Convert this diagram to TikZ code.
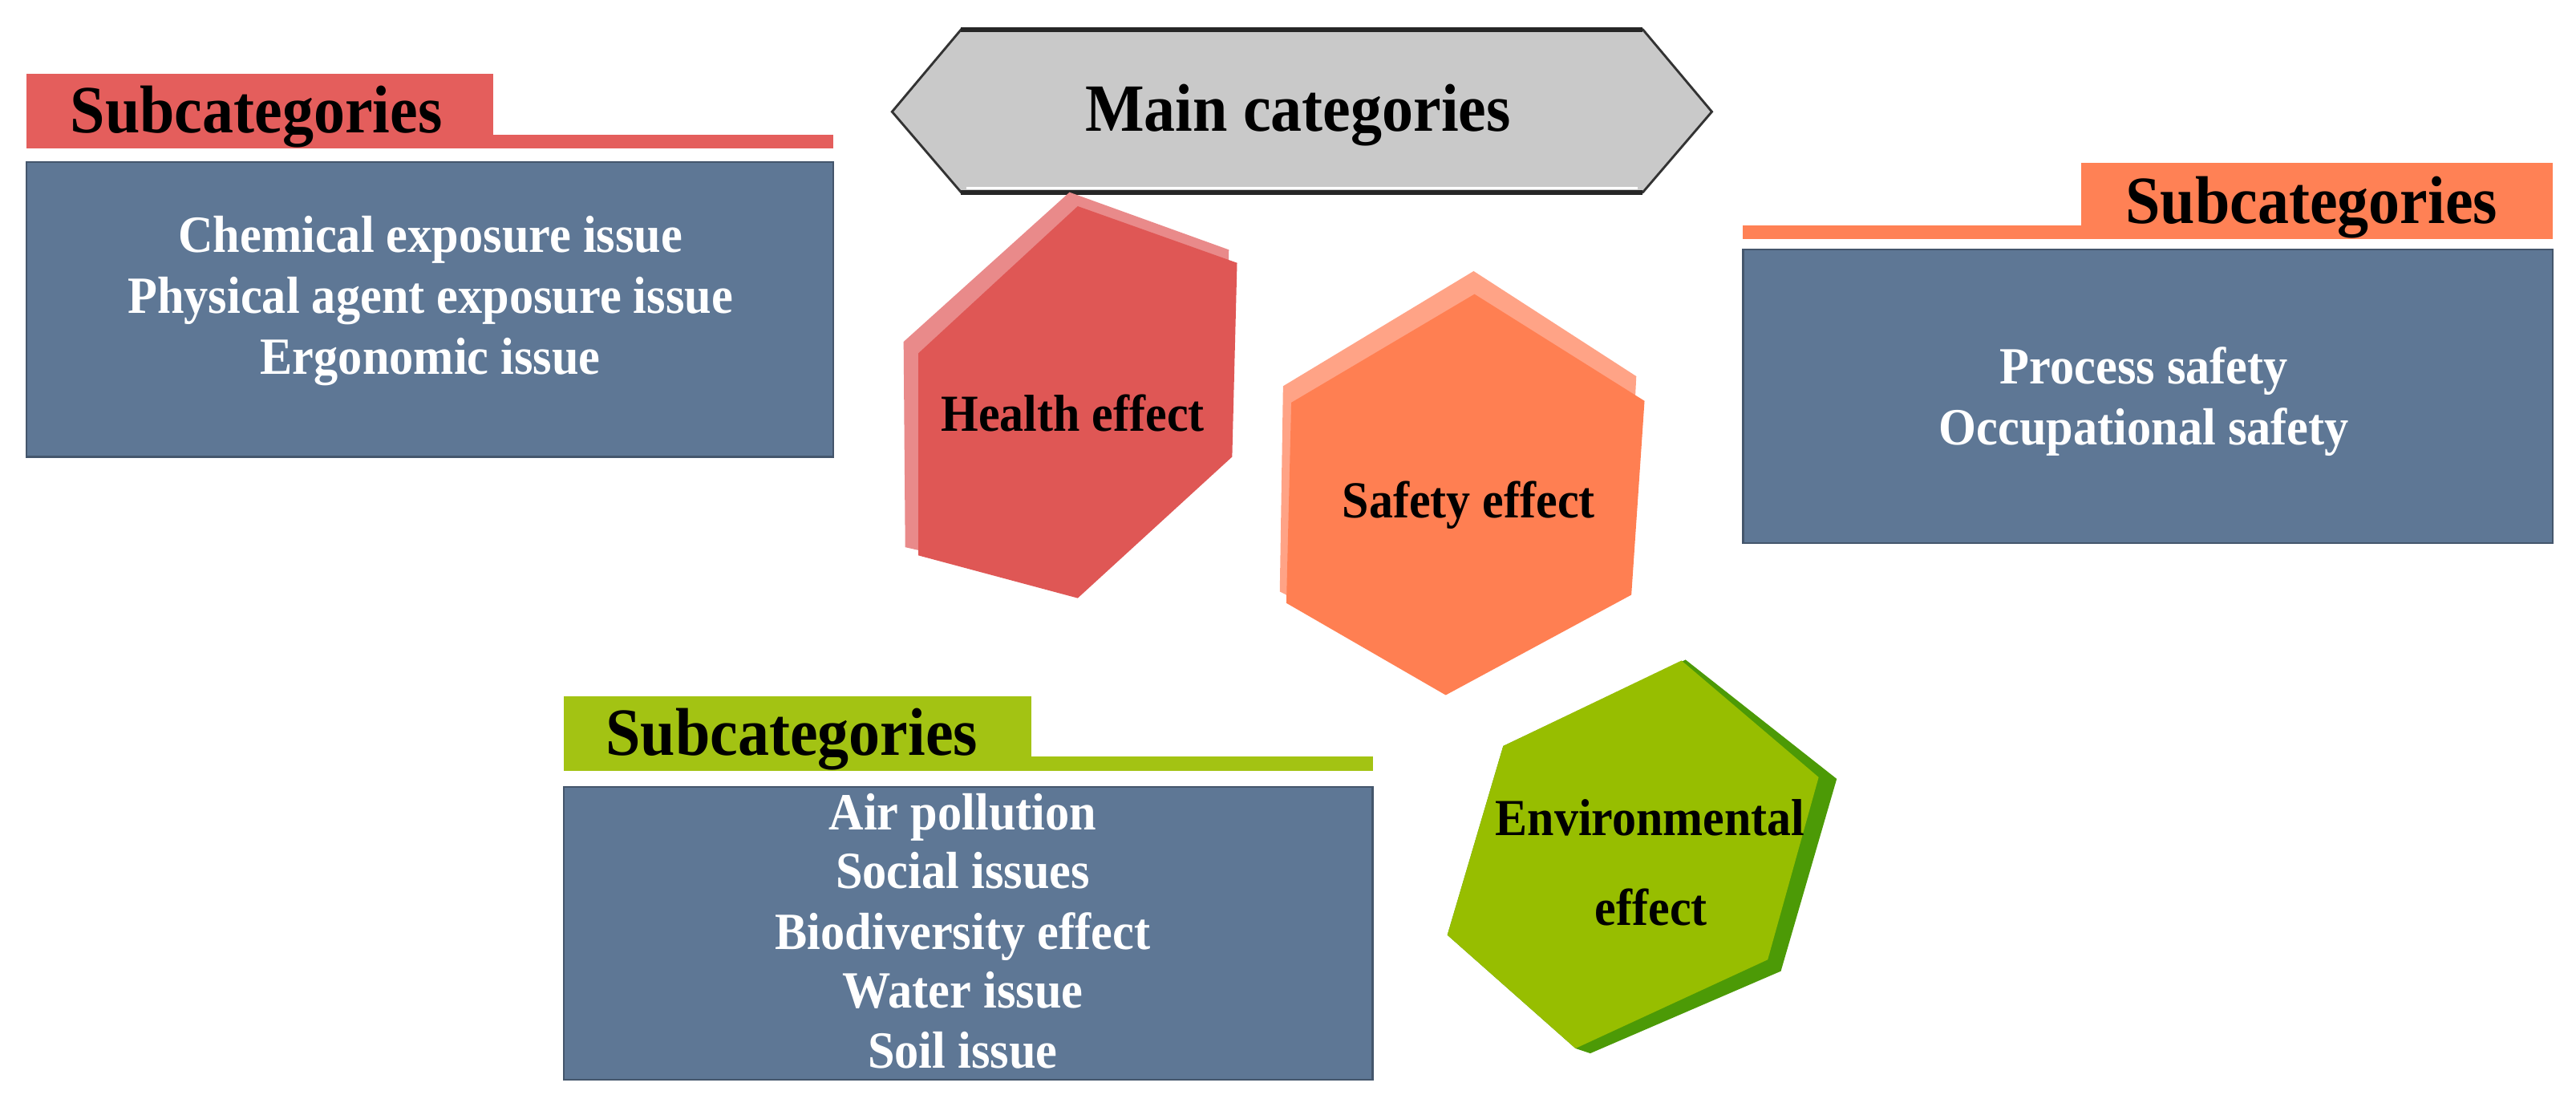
\documentclass[tikz,border=0pt]{standalone}
\usepackage{fontspec}
\setmainfont{Liberation Serif}[FakeStretch=0.926]
\definecolor{blueBox}{HTML}{5E7795}
\definecolor{blueEdge}{HTML}{44566C}
\definecolor{redC}{HTML}{E45E5C}
\definecolor{healthF}{HTML}{DF5755}
\definecolor{healthB}{HTML}{E98A8A}
\definecolor{orangeC}{HTML}{FF8155}
\definecolor{safetyF}{HTML}{FF7F52}
\definecolor{safetyB}{HTML}{FFA386}
\definecolor{greenC}{HTML}{A3C313}
\definecolor{envF}{HTML}{97BE00}
\definecolor{envD}{HTML}{4C9A06}
\definecolor{grayHex}{HTML}{C9C9C9}
\tikzset{
  bodytext/.style={anchor=base, inner sep=0pt, text=white, font=\fontsize{18.1}{22}\selectfont\bfseries},
  headtext/.style={anchor=base, inner sep=0pt, text=black, font=\fontsize{23.4}{28}\selectfont\bfseries},
  hextext/.style={anchor=base, inner sep=0pt, text=black, font=\fontsize{18.0}{22}\selectfont\bfseries},
  bluepanel/.style={fill=blueBox, draw=blueEdge, line width=0.6pt},
}
\begin{document}
\begin{tikzpicture}[x=0.02cm, y=-0.02cm]
\useasboundingbox (0,0) rectangle (1568,671);
\fill[white] (0,0) rectangle (1568,671);

% ---------- left block (health) ----------
\fill[redC] (16,45) rectangle (300,82);
\fill[redC] (16,82) rectangle (507,90.5);
\path[bluepanel] (16,98.5) rectangle (507,278);
\node[headtext] (hdrL) at (156,81) {Subcategories};
\node[bodytext] (l1) at (262,153.7) {Chemical exposure issue};
\node[bodytext] (l2) at (262,190.8) {Physical agent exposure issue};
\node[bodytext] (l3) at (262,227.8) {Ergonomic issue};

% ---------- right block (safety) ----------
\fill[orangeC] (1267,99) rectangle (1554,137);
\fill[orangeC] (1061,137) rectangle (1554,145.5);
\path[bluepanel] (1061,152) rectangle (1554,330.5);
\node[headtext] (hdrR) at (1407,136) {Subcategories};
\node[bodytext] (r1) at (1305,233.6) {Process safety};
\node[bodytext] (r2) at (1305,270.8) {Occupational safety};

% ---------- bottom block (environment) ----------
\fill[greenC] (343,423.5) rectangle (628,460.5);
\fill[greenC] (343,460.5) rectangle (835.5,469);
\path[bluepanel] (343,479) rectangle (835.5,657);
\node[headtext] (hdrB) at (482,459.5) {Subcategories};
\node[bodytext] (b1) at (586,504.9) {Air pollution};
\node[bodytext] (b2) at (586,540.5) {Social issues};
\node[bodytext] (b3) at (586,577.8) {Biodiversity effect};
\node[bodytext] (b4) at (586,613.4) {Water issue};
\node[bodytext] (b5) at (586,649.8) {Soil issue};

% ---------- main categories hexagon ----------
\draw[fill=grayHex, draw=black!80, line width=0.8pt]
  (543,68) -- (585,18) -- (1000,18) -- (1042,68) -- (1000,117) -- (585,117) -- cycle;
\draw[black!85, line width=1.6pt] (585,18) -- (1000,18);
\draw[black!85, line width=1.6pt] (585,117) -- (1000,117);
\draw[white, line width=0.8pt] (588,114.5) -- (997,114.5);
\node[headtext] (mainlbl) at (790,80) {Main categories};

% ---------- health hexagon ----------
\fill[healthB] (651,117) -- (748,152) -- (746,268) -- (652,356) -- (551,333) -- (550,208) -- cycle;
\fill[healthF] (656,125.5) -- (753,160) -- (750,278) -- (656,364) -- (559,338) -- (559,215) -- cycle;
\node[hextext] (health) at (653,262.5) {Health effect};

% ---------- safety hexagon ----------
\fill[safetyB] (897,165) -- (996,229) -- (990,350) -- (877,410) -- (779,360) -- (781,235) -- cycle;
\fill[safetyF] (897.5,179) -- (1001,244) -- (993,362) -- (880,423) -- (783,367) -- (786,245) -- cycle;
\node[hextext] (safety) at (894,315) {Safety effect};

% ---------- environmental hexagon ----------
\fill[envD] (1026,401.5) -- (1118,474) -- (1084,591) -- (968,641) -- (959,638) -- (881,569) -- (915,454) -- cycle;
\fill[envF] (1023.5,402) -- (1107,473) -- (1076,584) -- (959,638) -- (881,569) -- (915,454) -- cycle;
\node[hextext] (env1) at (1004.5,508.3) {Environmental};
\node[hextext] (env2) at (1005,563.3) {effect};
\end{tikzpicture}
\end{document}
